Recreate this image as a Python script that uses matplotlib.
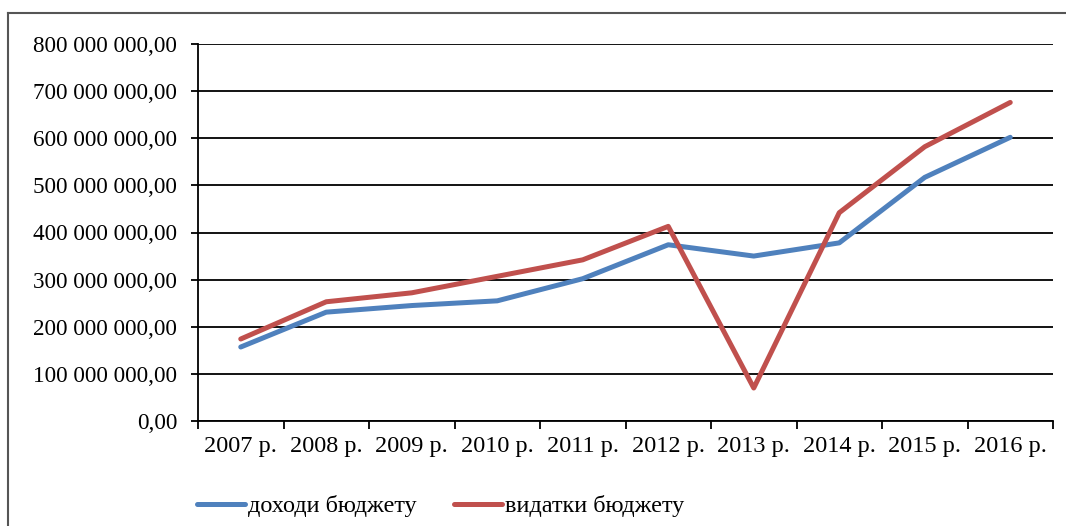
import matplotlib
matplotlib.use("Agg")
import matplotlib.pyplot as plt
from matplotlib.ticker import FuncFormatter, FixedLocator
from matplotlib.lines import Line2D

years = ["2007 р.", "2008 р.", "2009 р.", "2010 р.", "2011 р.",
         "2012 р.", "2013 р.", "2014 р.", "2015 р.", "2016 р."]
income = [157e6, 231e6, 245e6, 255e6, 302e6, 374e6, 350e6, 378e6, 517e6, 602e6]
expenses = [174e6, 253e6, 272e6, 307e6, 342e6, 413e6, 70e6, 442e6, 582e6, 676e6]

plt.rcParams['font.family'] = ['Liberation Serif', 'DejaVu Serif']

fig = plt.figure(figsize=(10.66, 5.26), dpi=100)
ax = fig.add_axes([198/1066, 1 - 421/526, (1053 - 198)/1066, (421 - 44)/526])

x = list(range(len(years)))
ax.plot(x, income, color='#4F81BD', lw=3.6, solid_capstyle='round', label='доходи бюджету')
ax.plot(x, expenses, color='#C0504D', lw=3.6, solid_capstyle='round', label='видатки бюджету')

ax.set_xlim(-0.5, len(years) - 0.5)
ax.set_ylim(0, 800e6)
ax.set_yticks([i * 100e6 for i in range(9)])
ax.yaxis.set_major_formatter(FuncFormatter(
    lambda v, p: "{:,.2f}".format(v).replace(",", " ").replace(".", ",")))
ax.grid(axis='y', color='black', lw=1.3)
ax.set_axisbelow(True)

ax.xaxis.set_major_locator(FixedLocator([i - 0.5 for i in range(len(years) + 1)]))
ax.xaxis.set_major_formatter(FuncFormatter(lambda v, p: ""))
ax.xaxis.set_minor_locator(FixedLocator(x))
ax.set_xticklabels(years, minor=True)
ax.tick_params(axis='x', which='minor', length=0, pad=11, labelsize=17.5)
ax.tick_params(axis='x', which='major', length=6, width=1.3, direction='out')
ax.tick_params(axis='y', length=5, width=1.3, labelsize=16.7, pad=10)

for s in ['top', 'right']:
    ax.spines[s].set_visible(False)
for s in ['left', 'bottom']:
    ax.spines[s].set_linewidth(1.3)

fig.legend(loc='center left', bbox_to_anchor=(197/1066, 1 - 506/526), ncol=2,
           frameon=False, fontsize=17.5, handlelength=1.98, handletextpad=0.12,
           columnspacing=1.52, borderpad=0, borderaxespad=0)

# outer chart frame (only the left and top edges are visible)
fx, fy = 8/1066, 1 - 13/526
fig.lines.append(Line2D([fx, fx], [0, fy], transform=fig.transFigure, color='#555555', lw=1.5))
fig.lines.append(Line2D([fx, 1], [fy, fy], transform=fig.transFigure, color='#555555', lw=1.5))

fig.savefig("out.png", dpi=100)
